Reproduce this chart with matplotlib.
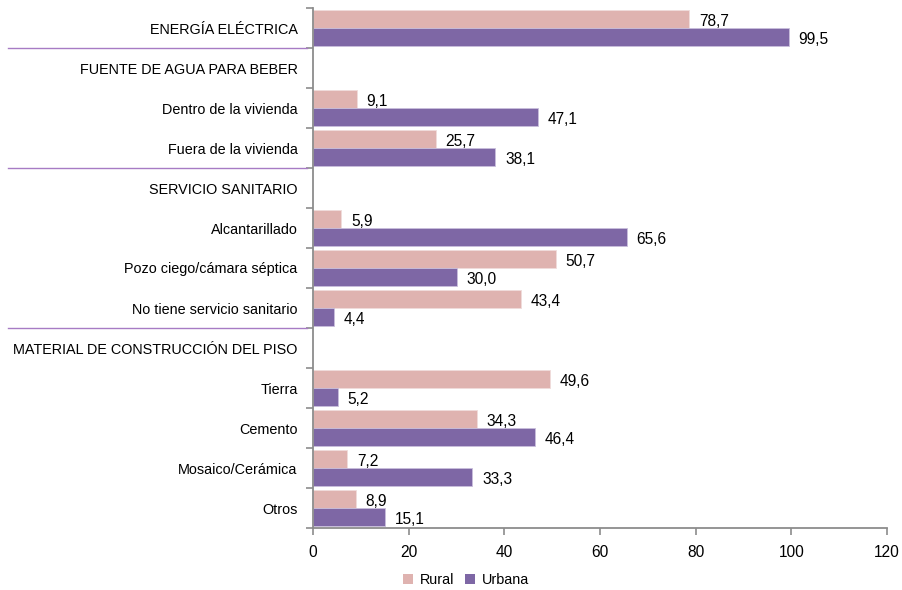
import matplotlib
matplotlib.use("Agg")
import matplotlib.pyplot as plt
import matplotlib.transforms as mtransforms
from matplotlib.lines import Line2D
from matplotlib.patches import Patch
import numpy as np

plt.rcParams["font.family"] = ["Liberation Sans", "DejaVu Sans"]

categories = [
    "ENERGÍA ELÉCTRICA",
    "FUENTE DE AGUA PARA BEBER",
    "Dentro de la vivienda",
    "Fuera de la vivienda",
    "SERVICIO SANITARIO",
    "Alcantarillado",
    "Pozo ciego/cámara séptica",
    "No tiene servicio sanitario",
    "MATERIAL DE CONSTRUCCIÓN DEL PISO",
    "Tierra",
    "Cemento",
    "Mosaico/Cerámica",
    "Otros",
]
rural = [78.7, None, 9.1, 25.7, None, 5.9, 50.7, 43.4, None, 49.6, 34.3, 7.2, 8.9]
urbana = [99.5, None, 47.1, 38.1, None, 65.6, 30.0, 4.4, None, 5.2, 46.4, 33.3, 15.1]
separators_after = [0, 3, 7]
x_ticks = [0, 20, 40, 60, 80, 100, 120]

C_RURAL = "#dfb3b0"
C_URB = "#7e67a5"
GRAY = "#8c8c8c"
FS_CAT = 10.4
FS_VAL = 11.2

fig = plt.figure(figsize=(9.03, 5.90), dpi=100)
ax = fig.add_axes([313 / 903, 1 - 528 / 590, (887 - 313) / 903, (528 - 8) / 590])

n = len(categories)
y = np.arange(n)
h = 0.44
for i in range(n):
    if rural[i] is not None:
        ax.barh(y[i] - h / 2, rural[i], height=h, color=C_RURAL, edgecolor="#f0dcdb", linewidth=0.6)
        ax.annotate(f"{rural[i]:.1f}".replace(".", ","), (rural[i], y[i] - h / 2),
                    xytext=(7, -2), textcoords="offset points", va="center", ha="left", fontsize=FS_VAL)
    if urbana[i] is not None:
        ax.barh(y[i] + h / 2, urbana[i], height=h, color=C_URB, edgecolor="#c9bfdc", linewidth=0.6)
        ax.annotate(f"{urbana[i]:.1f}".replace(".", ","), (urbana[i], y[i] + h / 2),
                    xytext=(7, -2), textcoords="offset points", va="center", ha="left", fontsize=FS_VAL)

ax.set_ylim(n - 0.5, -0.5)
ax.set_xlim(0, 120)
ax.set_xticks(x_ticks)
ax.set_xticklabels([str(t) for t in x_ticks], fontsize=FS_VAL)
ax.set_yticks(y)
ax.set_yticklabels(categories, fontsize=FS_CAT)
ax.set_yticks(np.arange(-0.5, n, 1), minor=True)
ax.tick_params(axis="y", which="major", length=0, pad=11)
ax.tick_params(axis="y", which="minor", length=5, color=GRAY, width=1.2)
ax.tick_params(axis="x", length=5, color=GRAY, width=1.2, pad=7)

for s in ["top", "right"]:
    ax.spines[s].set_visible(False)
for s in ["left", "bottom"]:
    ax.spines[s].set_color(GRAY)
    ax.spines[s].set_linewidth(1.3)

trans = mtransforms.blended_transform_factory(fig.transFigure, ax.transData)
for k in separators_after:
    fig.add_artist(Line2D([8 / 903, 307 / 903], [k + 0.5, k + 0.5], transform=trans,
                          color="#a77bc4", linewidth=1.0))

handles = [Patch(facecolor=C_RURAL, label="Rural"), Patch(facecolor=C_URB, label="Urbana")]
fig.legend(handles=handles, loc="center", bbox_to_anchor=(466 / 903, 1 - 580 / 590), ncol=2,
           frameon=False, fontsize=FS_CAT, handlelength=0.7, handleheight=0.7,
           handletextpad=0.5, columnspacing=0.7)

fig.savefig("out.png", dpi=100)
